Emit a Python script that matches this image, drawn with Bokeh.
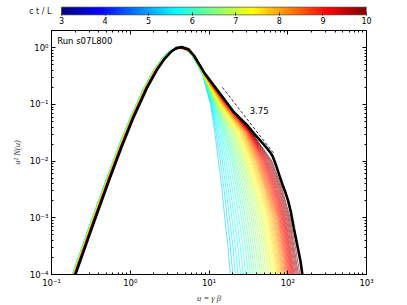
import numpy as np
from bokeh.plotting import figure
from bokeh.models import (LogAxis, Range1d, FixedTicker, LogTicker, CustomJSTickFormatter,
                          LinearColorMapper, ColumnDataSource, CustomLabelingPolicy)
from bokeh.layouts import column
from bokeh.embed import file_html
from bokeh.resources import INLINE
from bokeh.core.properties import value

# ---------------- data ----------------
# times c t / L of the coloured curves
t_over_L = [5.3, 5.4, 5.5, 5.6, 5.7, 5.8, 5.9, 6.0, 6.1, 6.2, 6.3, 6.4, 6.5, 6.6, 6.7, 6.8,
            6.9, 7.0, 7.1, 7.2, 7.3, 7.4, 7.5, 7.6, 7.7, 7.8, 7.9, 8.0, 8.1, 8.2, 8.3, 8.4,
            8.5, 8.6, 8.7, 8.8, 8.9, 9.0, 9.1, 9.2, 9.3, 9.4, 9.5, 9.6, 9.7, 9.8, 9.9, 10.0]

# shift (in log10 u) of the thermal body of each curve
body_shift = [0.000, 0.001, 0.002, 0.002, 0.003, 0.004, 0.005, 0.005, 0.006, 0.007, 0.008, 0.008,
              0.009, 0.010, 0.011, 0.011, 0.012, 0.013, 0.014, 0.014, 0.015, 0.016, 0.017, 0.017,
              0.018, 0.019, 0.020, 0.020, 0.021, 0.022, 0.023, 0.023, 0.024, 0.025, 0.026, 0.026,
              0.027, 0.028, 0.029, 0.029, 0.030, 0.031, 0.032, 0.032, 0.033, 0.034, 0.035, 0.035]

# thermal body of the earliest curve: log10 u and log10 (u^2 N)
body_logu = [-0.854, -0.699, -0.523, -0.301, -0.155, 0.000, 0.176, 0.301, 0.398, 0.477, 0.544,
             0.613, 0.699, 0.778, 0.845]
body_logy = [-4.470, -3.857, -3.163, -2.308, -1.768, -1.232, -0.697, -0.385, -0.196, -0.083,
             -0.023, 0.000, -0.036, -0.130, -0.280]

# high-energy tails: log10 u where each curve crosses these levels of log10 (u^2 N)
tail_levels = [-0.5, -1.0, -1.5, -2.0, -2.5, -3.0, -3.5, -4.0]
tail_m05 = [0.925, 0.926, 0.927, 0.927, 0.928, 0.929, 0.929, 0.930, 0.931, 0.932, 0.933, 0.934,
            0.935, 0.936, 0.937, 0.938, 0.939, 0.940, 0.941, 0.942, 0.943, 0.944, 0.945, 0.946,
            0.947, 0.948, 0.949, 0.950, 0.951, 0.952, 0.953, 0.954, 0.955, 0.956, 0.957, 0.958,
            0.959, 0.960, 0.961, 0.962, 0.963, 0.964, 0.965, 0.966, 0.967, 0.968, 0.969, 0.970]
tail_m10 = [1.020, 1.026, 1.031, 1.037, 1.043, 1.049, 1.054, 1.060, 1.066, 1.072, 1.078, 1.084,
            1.090, 1.096, 1.102, 1.108, 1.114, 1.120, 1.126, 1.132, 1.138, 1.144, 1.150, 1.156,
            1.162, 1.168, 1.174, 1.180, 1.184, 1.188, 1.192, 1.196, 1.200, 1.204, 1.208, 1.212,
            1.216, 1.220, 1.223, 1.226, 1.229, 1.232, 1.235, 1.237, 1.239, 1.241, 1.243, 1.245]
tail_m15 = [1.075, 1.091, 1.108, 1.124, 1.141, 1.157, 1.174, 1.190, 1.204, 1.218, 1.232, 1.246,
            1.260, 1.274, 1.288, 1.302, 1.316, 1.330, 1.342, 1.354, 1.366, 1.378, 1.390, 1.400,
            1.410, 1.420, 1.430, 1.440, 1.448, 1.456, 1.464, 1.472, 1.480, 1.486, 1.492, 1.498,
            1.504, 1.510, 1.514, 1.518, 1.522, 1.526, 1.530, 1.533, 1.536, 1.539, 1.542, 1.545]
tail_m20 = [1.120, 1.144, 1.169, 1.193, 1.217, 1.241, 1.266, 1.290, 1.308, 1.326, 1.344, 1.362,
            1.380, 1.396, 1.412, 1.428, 1.444, 1.460, 1.474, 1.488, 1.502, 1.516, 1.530, 1.542,
            1.554, 1.566, 1.578, 1.590, 1.600, 1.610, 1.620, 1.630, 1.640, 1.650, 1.660, 1.670,
            1.680, 1.690, 1.700, 1.710, 1.720, 1.730, 1.740, 1.752, 1.764, 1.776, 1.788, 1.800]
tail_m25 = [1.165, 1.191, 1.218, 1.244, 1.271, 1.297, 1.324, 1.350, 1.372, 1.394, 1.416, 1.438,
            1.460, 1.480, 1.500, 1.520, 1.540, 1.560, 1.576, 1.592, 1.608, 1.624, 1.640, 1.654,
            1.668, 1.682, 1.696, 1.710, 1.720, 1.730, 1.740, 1.750, 1.760, 1.771, 1.782, 1.793,
            1.804, 1.815, 1.826, 1.837, 1.848, 1.859, 1.870, 1.882, 1.894, 1.906, 1.918, 1.930]
tail_m30 = [1.200, 1.230, 1.260, 1.290, 1.320, 1.350, 1.380, 1.410, 1.436, 1.462, 1.488, 1.514,
            1.540, 1.562, 1.584, 1.606, 1.628, 1.650, 1.668, 1.686, 1.704, 1.722, 1.740, 1.754,
            1.768, 1.782, 1.796, 1.810, 1.822, 1.834, 1.846, 1.858, 1.870, 1.880, 1.890, 1.900,
            1.910, 1.920, 1.930, 1.940, 1.950, 1.960, 1.970, 1.982, 1.994, 2.006, 2.018, 2.030]
tail_m35 = [1.240, 1.271, 1.303, 1.334, 1.366, 1.397, 1.429, 1.460, 1.486, 1.512, 1.538, 1.564,
            1.590, 1.614, 1.638, 1.662, 1.686, 1.710, 1.728, 1.746, 1.764, 1.782, 1.800, 1.814,
            1.828, 1.842, 1.856, 1.870, 1.882, 1.894, 1.906, 1.918, 1.930, 1.940, 1.950, 1.960,
            1.970, 1.980, 1.990, 2.000, 2.010, 2.020, 2.030, 2.042, 2.054, 2.066, 2.078, 2.095]
tail_m40 = [1.270, 1.303, 1.336, 1.369, 1.401, 1.434, 1.467, 1.500, 1.526, 1.552, 1.578, 1.604,
            1.630, 1.654, 1.678, 1.702, 1.726, 1.750, 1.770, 1.790, 1.810, 1.830, 1.850, 1.864,
            1.878, 1.892, 1.906, 1.920, 1.932, 1.944, 1.956, 1.968, 1.980, 1.990, 2.000, 2.010,
            2.020, 2.030, 2.040, 2.050, 2.060, 2.070, 2.080, 2.094, 2.108, 2.122, 2.136, 2.155]

# final spectrum (thick black): log10 u, log10 (u^2 N)
black_logu = [-0.815, -0.660, -0.483, -0.261, -0.115, 0.040, 0.216, 0.341, 0.438, 0.517, 0.584,
              0.653, 0.739, 0.808, 0.870, 0.935, 1.000, 1.062, 1.189, 1.316, 1.487, 1.592, 1.680,
              1.741, 1.775, 1.805, 1.835, 1.868, 1.900, 1.935, 1.970, 2.005, 2.040, 2.079, 2.122,
              2.164, 2.190]
black_logy = [-4.470, -3.857, -3.163, -2.308, -1.768, -1.232, -0.697, -0.385, -0.190, -0.070,
              -0.005, 0.015, -0.025, -0.136, -0.280, -0.430, -0.550, -0.665, -0.900, -1.136,
              -1.370, -1.547, -1.680, -1.781, -1.840, -1.905, -2.010, -2.140, -2.280, -2.420,
              -2.550, -2.700, -2.900, -3.192, -3.487, -3.781, -4.050]

# reference power law, slope label
slope_u = [14.8, 67.0]
slope_y = [0.20, 0.0135]
slope_label = "3.75"
slope_label_pos = (32.8, 0.078)
run_label = "Run s07L800"
run_label_pos = (0.118, 1.345)

cbar_ticks = [3, 4, 5, 6, 7, 8, 9, 10]
cbar_title = "c t / L"
t_low, t_high = 3, 10

# ---------------- styling helpers ----------------
def jet(v):
    r = min(max(1.5 - abs(4 * v - 3), 0), 1)
    g = min(max(1.5 - abs(4 * v - 2), 0), 1)
    b = min(max(1.5 - abs(4 * v - 1), 0), 1)
    return "#%02x%02x%02x" % (int(r * 255), int(g * 255), int(b * 255))

jet_palette = [jet(i / 255) for i in range(256)]
FONT = "DejaVu Sans"
W = 375

sup_code = """
const e = Math.round(Math.log10(tick));
const m = {"-":"\\u207b","0":"\\u2070","1":"\\u00b9","2":"\\u00b2","3":"\\u00b3","4":"\\u2074",
           "5":"\\u2075","6":"\\u2076","7":"\\u2077","8":"\\u2078","9":"\\u2079"};
let s = "";
for (const c of String(e)) s += m[c];
return "10" + s;
"""
no_labels = CustomLabelingPolicy(code="""
for (const i of Array.from(indices)) { indices.set(i, false) }
return indices
""")

# ---------------- colour bar (frame aligned with the main plot frame: 51..366 px) ----------------
px_per_unit = 305 / 7.0
cb = figure(width=W, height=26, x_range=Range1d(t_low - 10 / px_per_unit, t_high),
            y_range=Range1d(-0.06, 1.06), output_backend="svg",
            toolbar_location=None, min_border_left=51, min_border_right=9,
            min_border_top=6, min_border_bottom=0)
cb.grid.visible = False
cb.outline_line_color = None
grad = np.linspace(t_low, t_high, 256).reshape(1, -1)
cb.image(image=[grad], x=t_low, y=0, dw=t_high - t_low, dh=1,
         color_mapper=LinearColorMapper(palette=jet_palette, low=t_low, high=t_high))
cb.quad(left=[t_low], right=[t_high], bottom=[0], top=[1], fill_color=None,
        line_color="#555555", line_width=1)
ax = cb.xaxis[0]
ax.ticker = FixedTicker(ticks=cbar_ticks)
ax.axis_line_color = None
ax.major_tick_in = 3
ax.major_tick_out = 0
ax.major_tick_line_color = "#333333"
ax.minor_tick_line_color = None
ax.major_label_standoff = 1
ax.major_label_text_font = FONT
ax.major_label_text_font_size = "8px"
ax.major_label_text_color = "black"
ay = cb.yaxis[0]
ay.ticker = FixedTicker(ticks=[0.5])
ay.formatter = CustomJSTickFormatter(code="return '%s'" % cbar_title)
ay.axis_line_color = None
ay.major_tick_line_color = None
ay.minor_tick_line_color = None
ay.major_tick_in = 0
ay.major_tick_out = 0
ay.major_label_standoff = 0
ay.major_label_text_font = FONT
ay.major_label_text_font_size = "8px"
ay.major_label_text_color = "#222222"

# ---------------- main plot ----------------
p = figure(width=W, height=279, x_axis_type="log", y_axis_type="log",
           x_range=Range1d(0.1, 1000), y_range=Range1d(1e-4, 2.02),
           output_backend="svg", toolbar_location=None,
           min_border_left=51, min_border_right=9, min_border_top=4, min_border_bottom=31)
p.grid.visible = False
p.outline_line_color = "black"
p.outline_line_width = 1

p.add_layout(LogAxis(), "above")
p.add_layout(LogAxis(), "right")

for a in p.xaxis + p.yaxis:
    a.ticker = LogTicker(num_minor_ticks=10)
    a.formatter = CustomJSTickFormatter(code=sup_code)
    a.axis_line_color = "black"
    a.major_tick_in = 4
    a.major_tick_out = 0
    a.minor_tick_in = 2
    a.minor_tick_out = 0
    a.major_tick_line_color = "black"
    a.minor_tick_line_color = "black"
    a.major_label_text_font = FONT
    a.major_label_text_font_size = "8.5px"
    a.major_label_text_color = "black"
    a.major_label_standoff = 3

for a in (p.above[0], p.right[0]):
    a.major_label_policy = no_labels
    a.major_label_text_font_size = "1px"
    a.major_label_standoff = 0

p.below[0].axis_label = "u = \u03b3 \u03b2"
p.left[0].axis_label = "u\u00b2 N(u)"
for a in (p.below[0], p.left[0]):
    a.axis_label_text_font = "Liberation Serif"
    a.axis_label_text_font_style = "italic"
    a.axis_label_text_font_size = "8.5px"
    a.axis_label_text_color = "#333333"
    a.axis_label_standoff = 2
p.left[0].axis_label_standoff = 5

tails = [tail_m05, tail_m10, tail_m15, tail_m20, tail_m25, tail_m30, tail_m35, tail_m40]
xs, ys, cols = [], [], []
for i, t in enumerate(t_over_L):
    lu = [v + body_shift[i] for v in body_logu] + [tl[i] for tl in tails]
    ly = list(body_logy) + list(tail_levels)
    xs.append([10 ** v for v in lu])
    ys.append([10 ** v for v in ly])
    cols.append(jet((t - t_low) / (t_high - t_low)))

src = ColumnDataSource(dict(xs=xs, ys=ys, color=cols))
p.multi_line(xs="xs", ys="ys", line_color="color", line_width=0.6, source=src)

p.line([10 ** v for v in black_logu], [10 ** v for v in black_logy], line_color="black",
       line_width=2.6)
p.line(slope_u, slope_y, line_color="black", line_width=0.8, line_dash="3 2")

p.text(x=[slope_label_pos[0]], y=[slope_label_pos[1]], text=[slope_label], text_font=value(FONT),
       text_font_size="8.5px", text_align="left", text_baseline="middle", text_color="black")
p.text(x=[run_label_pos[0]], y=[run_label_pos[1]], text=[run_label], text_font=value(FONT),
       text_font_size="8.5px", text_align="left", text_baseline="middle", text_color="black")

layout = column(cb, p, spacing=0)
open("out.html", "w").write(file_html(layout, INLINE))
